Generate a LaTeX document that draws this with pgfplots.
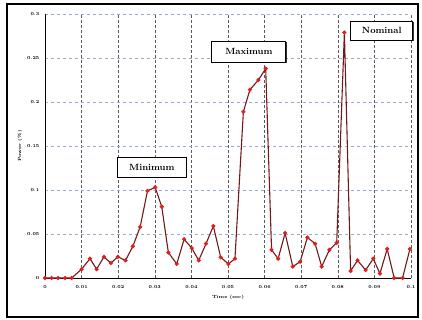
\documentclass[border=0pt]{standalone}
\usepackage{pgfplots}
\pgfplotsset{compat=1.18}
\usetikzlibrary{shadows}
\definecolor{linecol}{RGB}{115,25,25}
\definecolor{markcol}{RGB}{225,30,30}
\definecolor{ygrid}{RGB}{150,175,205}
\definecolor{xgrid}{RGB}{90,90,90}
\begin{document}
\begin{tikzpicture}
\useasboundingbox (-45pt,-42pt) rectangle (377pt,278pt);
\draw[line width=1.2pt] (-38pt,-39pt) rectangle (373pt,274pt);
\begin{axis}[
  scale only axis, width=366pt, height=264pt,
  xmin=0, xmax=0.1, ymin=0, ymax=0.3,
  axis x line=bottom, axis y line=left,
  axis line style={-, line width=0.8pt, black},
  xtick={0,0.01,...,0.1},
  xticklabels={0,0.01,0.02,0.03,0.04,0.05,0.06,0.07,0.08,0.09,0.1},
  ytick={0,0.05,0.1,0.15,0.2,0.25,0.3},
  yticklabels={0,0.05,0.1,0.15,0.2,0.25,0.3},
  tick style={draw=none},
  grid=major,
  x grid style={densely dashed, xgrid, line width=0.6pt},
  y grid style={dashed, ygrid, line width=0.5pt},
  ticklabel style={font=\fontsize{4.5}{5}\selectfont\bfseries},
  xticklabel style={yshift=-2pt},
  xlabel={Time (sec)}, ylabel={Power (\%)},
  label style={font=\fontsize{4.5}{5}\selectfont\bfseries},
  xlabel style={yshift=0pt},
  ylabel style={yshift=-2pt},
  clip=false,
]
\addplot[color=linecol, line width=1.1pt, mark=*, mark size=1.5pt,
  mark options={fill=markcol, draw=markcol}] coordinates {
(0.0000,0) (0.0018,0) (0.0036,0) (0.0055,0) (0.0073,0)
(0.0100,0.010) (0.0123,0.022) (0.0141,0.010) (0.0161,0.024) (0.0180,0.017)
(0.0199,0.024) (0.0220,0.020) (0.0240,0.036) (0.0260,0.058) (0.0280,0.099)
(0.0301,0.103) (0.0319,0.081) (0.0337,0.029) (0.0360,0.016) (0.0380,0.044)
(0.0401,0.034) (0.0420,0.020) (0.0440,0.039) (0.0460,0.059) (0.0480,0.0235)
(0.0501,0.016) (0.0519,0.022) (0.0542,0.189) (0.0560,0.214) (0.0583,0.225)
(0.0603,0.238) (0.0619,0.032) (0.0637,0.022) (0.0656,0.051) (0.0677,0.013)
(0.0697,0.0185) (0.0717,0.046) (0.0738,0.039) (0.0756,0.013) (0.0777,0.032)
(0.0797,0.040) (0.0818,0.279) (0.0835,0.008) (0.0854,0.020) (0.0876,0.009)
(0.0897,0.022) (0.0915,0.005) (0.0935,0.033) (0.0954,0.000) (0.0977,0.000)
(0.0997,0.033)
};
\tikzset{lbl/.style={draw, fill=white, line width=1pt, font=\fontsize{9}{10}\selectfont\bfseries,
  inner sep=2pt, drop shadow={shadow xshift=0.8pt, shadow yshift=-0.8pt, fill=black, opacity=0.8}}}
\node[lbl, minimum width=69pt, minimum height=20pt] at (axis cs:0.0292,0.126) {Minimum};
\node[lbl, minimum width=74pt, minimum height=21pt] at (axis cs:0.0557,0.257) {Maximum};
\node[lbl, minimum width=62pt, minimum height=19pt] at (axis cs:0.0920,0.281) {Nominal};
\end{axis}
\end{tikzpicture}
\end{document}
